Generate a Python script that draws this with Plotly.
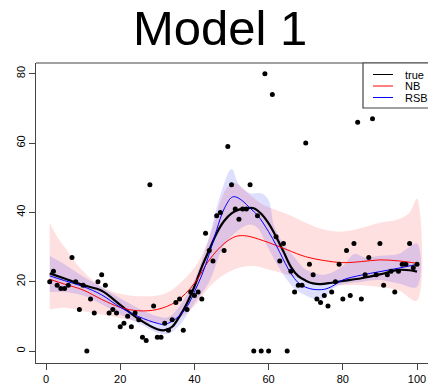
import plotly.graph_objects as go

# observed data (x = 1..100)
obs_x = list(range(1, 101))
obs_y = [20, 23, 19, 18, 18, 19, 27, 20, 12, 19,
         0, 15, 11, 20, 22, 19, 11, 12, 11, 7,
         8, 10, 7, 11, 9, 4, 3, 48, 13, 4,
         4, 8, 6, 9, 14, 15, 6, 12, 17, 16,
         17, 15, 34, 29, 26, 39, 40, 29, 59, 48,
         41, 38, 41, 41, 48, 0, 39, 0, 80, 0,
         74, 33, 26, 31, 0, 23, 17, 19, 19, 60,
         25, 22, 15, 14, 16, 13, 17, 20, 25, 15,
         29, 16, 31, 66, 15, 22, 27, 67, 22, 31,
         19, 22, 23, 17, 23, 25, 25, 31, 24, 25]

# true curve
true_x = [1, 5, 10, 15, 20, 25, 30, 32, 34, 36, 38, 40, 42, 44, 46, 48, 50, 52, 54, 56,
          58, 60, 62, 64, 66, 68, 70, 72, 74, 77, 80, 85, 90, 95, 98, 100]
true_y = [22.4, 20.9, 19.0, 17.4, 13.3, 9.2, 6.3, 6.0, 7.0, 10.0, 13.8, 18.6, 24.3, 29.2,
          34.0, 37.5, 39.7, 40.8, 41.2, 41.2, 39.6, 36.8, 33.0, 28.7, 24.3, 21.6, 20.3,
          19.5, 19.3, 19.7, 20.2, 21.0, 22.1, 23.4, 23.3, 22.9]

# NB fit and band
nb_x = [1, 5, 10, 15, 20, 25, 30, 35, 40, 44, 48, 51, 53, 55, 60, 65, 70, 75, 80, 85, 90, 95, 100]
nb_y = [20.7, 19.3, 17.6, 14.9, 12.6, 11.6, 12.0, 14.2, 19.5, 26.3, 31.0, 33.0, 33.3, 33.0,
        31.3, 29.2, 27.2, 26.1, 25.5, 25.8, 26.3, 26.0, 25.3]
nb_hi_x = [1, 3, 5, 8, 10, 13, 15, 20, 25, 30, 33, 36, 40, 43, 45, 47, 49, 51, 53, 55, 58,
           60, 65, 70, 75, 80, 85, 90, 95, 98, 100]
nb_hi = [37, 33, 30, 25.5, 23, 20, 18.5, 16.5, 15.8, 16, 17, 19.5, 24, 30, 36, 43, 47.5,
         48.5, 47, 45, 42.5, 41.5, 39.5, 37, 35, 34.5, 35.5, 37, 38, 40, 44]
nb_lo_x = [1, 5, 10, 15, 20, 25, 30, 35, 40, 44, 48, 52, 56, 60, 65, 70, 75, 80, 85, 90, 95, 100]
nb_lo = [12, 12.5, 11.5, 10.5, 9.5, 8.5, 8, 9, 13, 18.5, 22, 24, 24.5, 23.5, 22, 20.5,
         19.5, 19, 19, 18.5, 17.5, 14.5]

# RSB fit and band
rsb_x = [1, 5, 10, 15, 20, 25, 30, 32, 35, 38, 40, 42, 44, 46, 48, 50, 51, 53, 55, 57, 60,
         62, 64, 66, 68, 70, 72, 75, 77, 80, 85, 90, 95, 100]
rsb_y = [21.7, 20.3, 18.6, 16.2, 12.6, 9.9, 8.0, 7.7, 9.3, 12.8, 17.1, 21.9, 28.0, 35.0,
         41.0, 44.3, 44.5, 43.3, 41.2, 39.2, 34.4, 30.6, 26.3, 22.4, 19.7, 18.4, 17.8,
         17.8, 18.6, 20.5, 21.9, 22.9, 23.9, 25.0]
rsb_hi_x = [1, 5, 10, 15, 20, 25, 30, 33, 36, 40, 44, 47, 50, 52, 55, 58, 60, 61.5, 64, 67,
            70, 75, 80, 83, 86, 90, 95, 100]
rsb_hi = [27.5, 25, 21.5, 18.5, 15.2, 12.3, 10, 9.8, 13, 20.5, 33, 45, 52.5, 48, 45.5,
          45.5, 43.5, 36, 31, 27, 23.5, 22, 24.5, 28, 27, 27.5, 28, 31]
rsb_lo_x = [1, 5, 10, 15, 20, 25, 30, 33, 36, 40, 44, 48, 52, 55, 57, 60, 64, 67, 70, 74,
            78, 85, 90, 95, 100]
rsb_lo = [17, 17, 16, 13.5, 10.5, 8, 5.3, 5, 7.5, 13.8, 20, 30.5, 35, 36.5, 35.5, 29.5,
          22, 18, 16, 14.8, 18.5, 20, 20.5, 19.5, 18.5]

x_ticks = [0, 20, 40, 60, 80, 100]
y_ticks = [0, 20, 40, 60, 80]

legend_names = ["true", "NB", "RSB"]
legend_colors = ["black", "red", "blue"]

fig = go.Figure()

# bands
fig.add_trace(go.Scatter(
    x=nb_lo_x + nb_hi_x[::-1], y=nb_lo + nb_hi[::-1], fill="toself",
    fillcolor="rgba(255,0,0,0.12)", line=dict(width=0, shape="spline"),
    mode="lines", showlegend=False, hoverinfo="skip"))
fig.add_trace(go.Scatter(
    x=rsb_lo_x + rsb_hi_x[::-1], y=rsb_lo + rsb_hi[::-1], fill="toself",
    fillcolor="rgba(0,0,255,0.13)", line=dict(width=0, shape="spline"),
    mode="lines", showlegend=False, hoverinfo="skip"))

# curves
fig.add_trace(go.Scatter(x=true_x, y=true_y, mode="lines", name="true", showlegend=False,
                         line=dict(color="black", width=2.2, shape="spline")))
fig.add_trace(go.Scatter(x=nb_x, y=nb_y, mode="lines", name="NB", showlegend=False,
                         line=dict(color="red", width=1, shape="spline")))
fig.add_trace(go.Scatter(x=rsb_x, y=rsb_y, mode="lines", name="RSB", showlegend=False,
                         line=dict(color="blue", width=1, shape="spline")))

# observations
fig.add_trace(go.Scatter(x=obs_x, y=obs_y, mode="markers", showlegend=False,
                         marker=dict(color="black", size=5)))

# legend box (R style, cut off at the right edge like the reference)
PL, PT, PW, PH = 36, 63, 392, 300
def px(xp):
    return (xp - PL) / PW
def py(yp):
    return (PT + PH - yp) / PH

shapes = [dict(type="line", xref="paper", yref="paper", x0=0, x1=1, y0=1, y1=1,
               line=dict(color="#444", width=1.2)),
          dict(type="rect", xref="paper", yref="paper", x0=px(363), x1=px(440),
               y0=py(108), y1=py(63), fillcolor="white", line=dict(color="#444", width=1.2),
               layer="above")]
annotations = [dict(text="Model 1", xref="paper", yref="paper",
                    x=px(219.5), y=1, xanchor="center", yanchor="bottom",
                    yshift=6, showarrow=False,
                    font=dict(family="Liberation Sans, Arial, sans-serif", size=49,
                              color="black"))]
for i, (nm, col) in enumerate(zip(legend_names, legend_colors)):
    yy = 74.5 + i * 11.5
    shapes.append(dict(type="line", xref="paper", yref="paper", x0=px(373), x1=px(393),
                       y0=py(yy), y1=py(yy), line=dict(color=col, width=1), layer="above"))
    annotations.append(dict(text=nm, xref="paper", yref="paper", x=px(403), y=py(yy),
                            xanchor="left", yanchor="middle", showarrow=False,
                            font=dict(family="Liberation Sans, Arial, sans-serif", size=11,
                                      color="black")))

fig.update_layout(
    width=428, height=387,
    margin=dict(l=36, r=0, t=63, b=24),
    paper_bgcolor="white", plot_bgcolor="white",
    font=dict(family="Liberation Sans, Arial, sans-serif", size=11, color="black"),
    showlegend=False,
    annotations=annotations,
    shapes=shapes,
)
fig.update_xaxes(range=[-2.7, 102.96], tickvals=x_ticks, ticks="outside", ticklen=6,
                 showgrid=False, zeroline=False, showline=True, linecolor="#444",
                 linewidth=1.2, tickcolor="#444", tickfont=dict(size=11))
fig.update_yaxes(range=[-3.46, 83.1], tickvals=y_ticks, ticks="outside", ticklen=6,
                 showgrid=False, zeroline=False, showline=True, linecolor="#444",
                 linewidth=1.2, tickcolor="#444", tickangle=-90, tickfont=dict(size=11))

fig.write_html("out.html")
